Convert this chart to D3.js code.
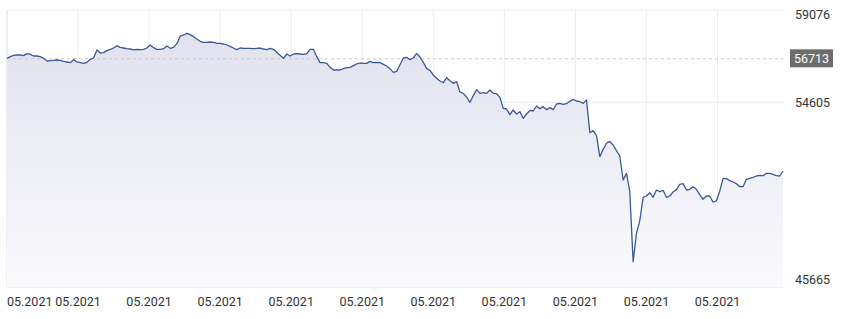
<!DOCTYPE html>
<html>
<head>
<meta charset="utf-8">
<script src="https://cdn.jsdelivr.net/npm/d3@7"></script>
<style>
  body { margin: 0; background: #fff; }
  svg { display: block; font-family: Roboto, "Noto Sans", sans-serif; }
</style>
</head>
<body>
<svg id="chart" width="841" height="319"></svg>
<script>
// price readings, one every 2h15m starting 3 May 2021
const values = [
  56736, 56817, 56881, 56897, 56897, 56865, 56962, 56930, 56849, 56849,
  56817, 56736, 56607, 56623, 56639, 56655, 56639, 56591, 56559, 56526,
  56671, 56559, 56526, 56494, 56542, 56688, 56752, 57140, 56994, 57010,
  57107, 57172, 57236, 57349, 57269, 57236, 57204, 57188, 57140, 57172,
  57156, 57172, 57236, 57382, 57253, 57172, 57172, 57204, 57333, 57220,
  57269, 57446, 57817, 57866, 57946, 57882, 57785, 57672, 57559, 57511,
  57511, 57527, 57511, 57462, 57462, 57430, 57382, 57317, 57236, 57156,
  57236, 57220, 57220, 57220, 57204, 57220, 57236, 57188, 57156, 57220,
  57172, 57027,
  56881, 56736, 56946, 56849, 56946, 56962, 56946, 56930, 56962, 57172,
  57172, 56817, 56526, 56526, 56494, 56300, 56171, 56171, 56171, 56236,
  56284, 56300, 56381, 56462, 56510, 56494, 56494, 56591, 56526, 56542,
  56526, 56445, 56365, 56236, 56058, 56106, 56429, 56752, 56784, 56671,
  56752, 56978, 56800, 56542, 56252, 56155, 55929, 55768, 55638, 55558,
  55800, 55655, 55526, 55606, 55106, 55041, 54864, 54606, 54928, 55219,
  55041, 55074, 55041, 55203, 55041, 55025, 54848, 54315, 54283, 54009,
  54235, 54041, 54154, 53831, 54041, 54218, 54186, 54428, 54299, 54396,
  54251, 54347, 54251, 54525, 54557, 54509, 54541, 54654, 54751, 54670,
  54638, 54557, 54719, 53137, 53234, 52992, 51975, 52330, 52622, 52718,
  52540, 52266, 52007, 50846, 51168, 50281, 46892, 48263, 48877, 50007,
  50071, 50232, 50007, 50361, 50281, 50345, 50007, 50071, 50265, 50378,
  50636, 50668, 50361, 50394, 50523, 50394, 50136, 49910, 50071, 50071,
  49780, 49829, 50297, 50926, 50910, 50813, 50749, 50668, 50523, 50523,
  50878, 50926, 50974, 51039, 51071, 51055, 51168, 51168, 51120, 51055,
  51039, 51281
];
const yTicks = [45665, 54605, 59076];
const refValue = 56713;
const startDate = Date.UTC(2021, 4, 3);
const stepMs = 2.25 * 3600 * 1000;

const svg = d3.select("#chart");
const plotLeft = 7, plotRight = 783, plotTop = 10, plotBottom = 287;

const data = values.map((v, i) => ({ date: new Date(startDate + i * stepMs), value: v }));
const endDate = data[data.length - 1].date;

const x = d3.scaleUtc().domain([data[0].date, endDate]).range([plotLeft, plotRight]);
const y = d3.scaleLinear().domain([yTicks[0], yTicks[2]]).range([plotBottom, plotTop]);

const xTicks = d3.utcDay.range(data[0].date, endDate, 2);
const fmt = d3.utcFormat("%m.%Y");

// gradient for the area
const grad = svg.append("defs").append("linearGradient")
  .attr("id", "areaFill")
  .attr("x1", 0).attr("y1", 0).attr("x2", 0).attr("y2", 1);
grad.append("stop").attr("offset", "0%").attr("stop-color", "#e2e2ef");
grad.append("stop").attr("offset", "100%").attr("stop-color", "#fafafd");

// horizontal grid
svg.selectAll("line.hgrid")
  .data(yTicks)
  .enter()
  .append("line")
  .attr("class", "hgrid")
  .attr("x1", plotLeft).attr("x2", plotRight)
  .attr("y1", (d) => y(d)).attr("y2", (d) => y(d))
  .attr("stroke", (d, i) => (i === 0 ? "#e2e2e2" : "#eeeeee"))
  .attr("stroke-width", 1);

// vertical grid
svg.selectAll("line.vgrid")
  .data(xTicks)
  .enter()
  .append("line")
  .attr("class", "vgrid")
  .attr("x1", (d) => x(d)).attr("x2", (d) => x(d))
  .attr("y1", plotTop).attr("y2", plotBottom)
  .attr("stroke", (d, i) => (i === 0 ? "#dddddd" : "#eeeeee"))
  .attr("stroke-width", 1);

// area + line
const area = d3.area()
  .x((d) => x(d.date))
  .y0(plotBottom)
  .y1((d) => y(d.value));

const line = d3.line()
  .x((d) => x(d.date))
  .y((d) => y(d.value));

svg.append("path")
  .datum(data)
  .attr("d", area)
  .attr("fill", "url(#areaFill)");

// reference dashed line
svg.append("line")
  .attr("x1", plotLeft).attr("x2", plotRight)
  .attr("y1", y(refValue)).attr("y2", y(refValue))
  .attr("stroke", "#cdc6c6")
  .attr("stroke-dasharray", "3,3")
  .attr("stroke-width", 1);

svg.append("path")
  .datum(data)
  .attr("d", line)
  .attr("fill", "none")
  .attr("stroke", "#3b5996")
  .attr("stroke-width", 1.3)
  .attr("stroke-linejoin", "round");

// x labels
svg.selectAll("text.xlabel")
  .data(xTicks)
  .enter()
  .append("text")
  .attr("class", "xlabel")
  .attr("x", (d) => x(d))
  .attr("y", 306)
  .attr("text-anchor", (d, i) => (i === 0 ? "start" : "middle"))
  .attr("font-size", 12.5)
  .attr("fill", "#333")
  .text((d) => fmt(d));

// y labels
svg.selectAll("text.ylabel")
  .data(yTicks)
  .enter()
  .append("text")
  .attr("class", "ylabel")
  .attr("x", 795)
  .attr("y", (d) => Math.min(Math.max(y(d), plotTop + 5), plotBottom - 7))
  .attr("dy", "0.35em")
  .attr("font-size", 12.5)
  .attr("fill", "#333")
  .text((d) => d);

// current value badge
const badgeY = y(refValue);
svg.append("rect")
  .attr("x", 790).attr("y", badgeY - 9.5)
  .attr("width", 43).attr("height", 18)
  .attr("fill", "#6d6d6d");
svg.append("text")
  .attr("x", 811.5)
  .attr("y", badgeY)
  .attr("dy", "0.35em")
  .attr("text-anchor", "middle")
  .attr("font-size", 12.5)
  .attr("fill", "#fff")
  .text(refValue);
</script>
</body>
</html>
